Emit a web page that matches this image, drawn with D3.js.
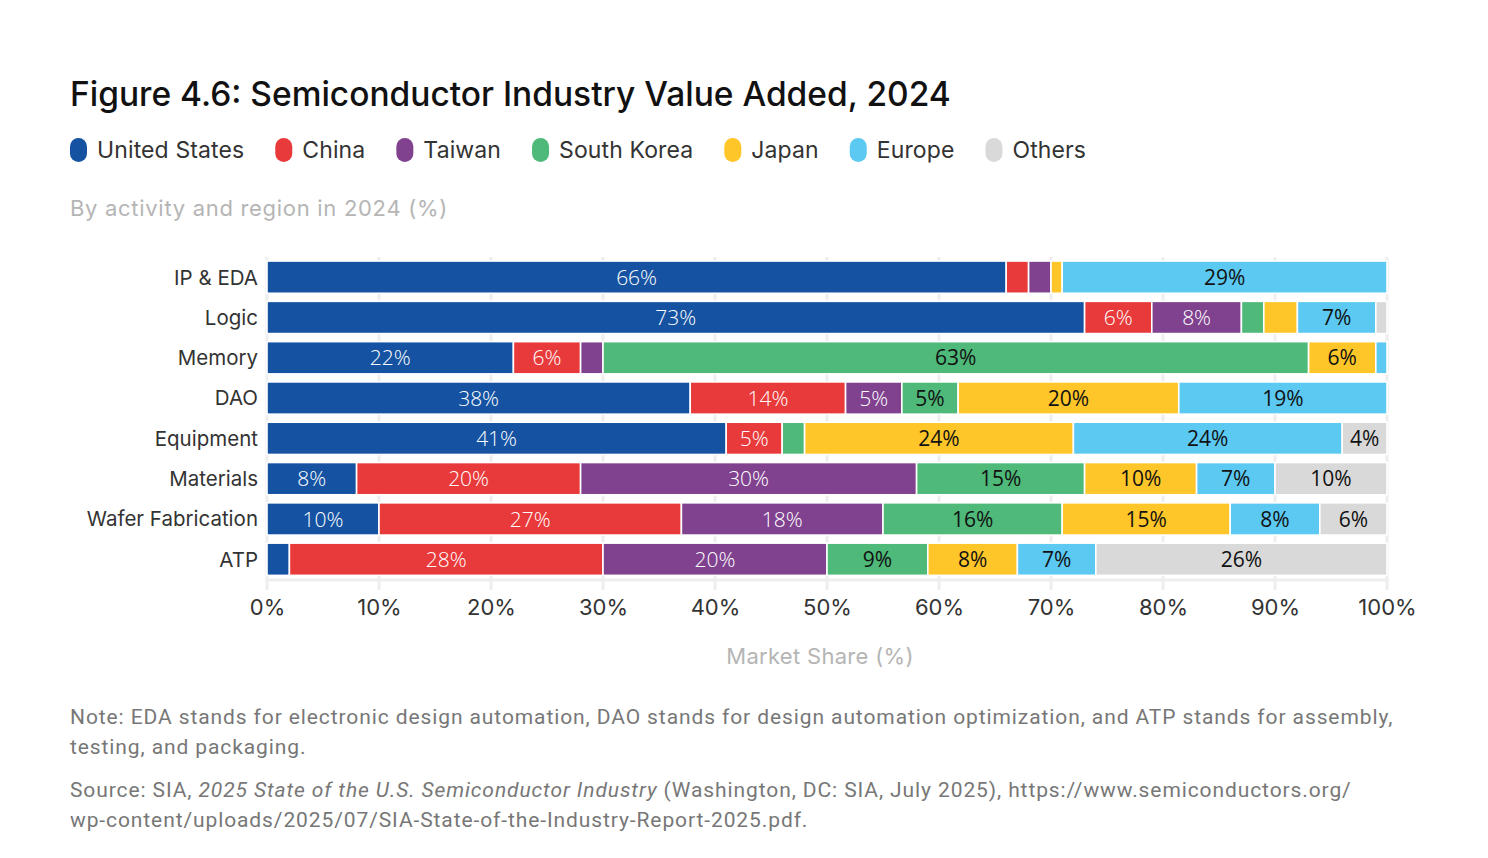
<!DOCTYPE html>
<html><head><meta charset="utf-8">
<script src="https://cdn.jsdelivr.net/npm/d3@7"></script>
<style>
html,body{margin:0;padding:0;background:#fff;}
svg{display:block;font-family:Inter,"Noto Sans",sans-serif;}
</style></head>
<body>
<svg id="chart" width="1488" height="858"></svg>
<script>
const categories = ["IP & EDA","Logic","Memory","DAO","Equipment","Materials","Wafer Fabrication","ATP"];
const regions = ["United States","China","Taiwan","South Korea","Japan","Europe","Others"];
const usValues     = [66, 73, 22, 37.6, 41,  8, 10,  2];
const chinaValues  = [ 2,  6,  6, 13.8,  5, 20, 27, 28];
const taiwanValues = [ 2,  8,  2,  5,    0, 30, 18, 20];
const koreaValues  = [ 0,  2, 63,  5,    2, 15, 16,  9];
const japanValues  = [ 1,  3,  6, 19.6, 24, 10, 15,  8];
const europeValues = [29,  7,  1, 18.5, 24,  7,  8,  7];
const othersValues = [ 0,  1,  0,  0,    4, 10,  6, 26];
const tickValues = [0,10,20,30,40,50,60,70,80,90,100];
const colors = ["#1553a2","#e83a3b","#80428f","#4eb979","#ffc629","#5bc9f1","#d9d9d9"];
const labelColors = ["#fff","#fff","#fff","#111","#111","#111","#111"];

const seriesArrays = [usValues,chinaValues,taiwanValues,koreaValues,japanValues,europeValues,othersValues];
const table = categories.map((c,i)=>{
  const row = {category:c};
  regions.forEach((r,j)=>row[r]=seriesArrays[j][i]);
  return row;
});

const svg = d3.select("#chart");
const x = d3.scaleLinear().domain([0,100]).range([267,1387]);
const y = d3.scaleBand().domain(categories).range([257,579.4]).paddingInner(0.2).paddingOuter(0.1);

// Title
svg.append("text").attr("x",70).attr("y",106).attr("font-size",33.5).attr("font-weight",500)
  .attr("fill","#111").text("Figure 4.6: Semiconductor Industry Value Added, 2024");

// Legend
let lx = 70;
regions.forEach((r,j)=>{
  const g = svg.append("g");
  g.append("rect").attr("x",lx).attr("y",138).attr("width",17).attr("height",24).attr("rx",8.5).attr("fill",colors[j]);
  const t = g.append("text").attr("x",lx+27).attr("y",158).attr("font-size",23).attr("letter-spacing",0.12)
    .attr("fill","#333").text(r);
  lx = lx + 27 + t.node().getComputedTextLength() + 31;
});

// Subtitle
svg.append("text").attr("x",70).attr("y",216).attr("font-size",22).attr("letter-spacing",0.7).attr("fill","#b5b5b5")
  .text("By activity and region in 2024 (%)");

// Grid
svg.append("g").selectAll("line").data(tickValues).join("line")
  .attr("x1",d=>x(d)).attr("x2",d=>x(d)).attr("y1",257).attr("y2",590)
  .attr("stroke","#eeeeee").attr("stroke-width",3);
svg.append("line").attr("x1",x(0)-1.5).attr("x2",x(100)+1.5).attr("y1",580).attr("y2",580)
  .attr("stroke","#eeeeee").attr("stroke-width",3);

// Stack
const stack = d3.stack().keys(regions).offset(d3.stackOffsetExpand);
const series = stack(table);
const xs = v => x(v*100);

const layers = svg.append("g").selectAll("g").data(series).join("g")
  .attr("fill",(d,i)=>colors[i]);
layers.selectAll("rect").data(d=>d.filter(e=>e.data[d.key]>0)).join("rect")
  .attr("x",d=>xs(d[0]))
  .attr("y",d=>y(d.data.category))
  .attr("width",d=>Math.max(0,xs(d[1])-xs(d[0])))
  .attr("height",y.bandwidth())
  .attr("stroke","#fff").attr("stroke-width",1.6);

// Labels
series.forEach((s,i)=>{
  svg.append("g").selectAll("text").data(s.filter(e=>e.data[s.key]>=4)).join("text")
    .attr("x",d=>(xs(d[0])+xs(d[1]))/2)
    .attr("y",d=>y(d.data.category)+y.bandwidth()/2)
    .attr("dy","0.36em")
    .attr("text-anchor","middle")
    .attr("font-family","'Open Sans',sans-serif")
    .attr("font-size",21)
    .attr("font-weight",i<3?300:400)
    .attr("fill",labelColors[i])
    .text(d=>Math.round(d.data[s.key])+"%");
});

// Y labels
svg.append("g").selectAll("text").data(categories).join("text")
  .attr("x",258).attr("y",d=>y(d)+y.bandwidth()/2).attr("dy","0.36em")
  .attr("text-anchor","end").attr("font-size",20.5).attr("fill","#333").text(d=>d);

// X axis tick labels
const xAxis = d3.axisBottom(x).tickValues(tickValues).tickFormat(d=>d+"%").tickSize(0).tickPadding(0);
const ax = svg.append("g").attr("transform","translate(0,598)").call(xAxis);
ax.select(".domain").remove();
ax.selectAll("text").attr("font-size",22).attr("fill","#333").attr("font-family","Inter,'Noto Sans',sans-serif")
  .attr("dy","0.75em");

// X title
svg.append("text").attr("x",820).attr("y",664).attr("text-anchor","middle").attr("font-size",22)
  .attr("letter-spacing",0.3).attr("fill","#b5b5b5").text("Market Share (%)");

// Notes
const noteFont = "Roboto,sans-serif";
const notes = svg.append("g").attr("font-family",noteFont).attr("font-size",21).attr("letter-spacing",0.9).attr("fill","#777");
notes.append("text").attr("x",70).attr("y",724)
  .text("Note: EDA stands for electronic design automation, DAO stands for design automation optimization, and ATP stands for assembly,");
notes.append("text").attr("x",70).attr("y",754).text("testing, and packaging.");
const src = notes.append("text").attr("x",70).attr("y",797);
src.append("tspan").text("Source: SIA, ");
src.append("tspan").attr("font-style","italic").text("2025 State of the U.S. Semiconductor Industry");
src.append("tspan").text(" (Washington, DC: SIA, July 2025), https://www.semiconductors.org/");
notes.append("text").attr("x",70).attr("y",827).text("wp-content/uploads/2025/07/SIA-State-of-the-Industry-Report-2025.pdf.");
</script>
</body></html>
